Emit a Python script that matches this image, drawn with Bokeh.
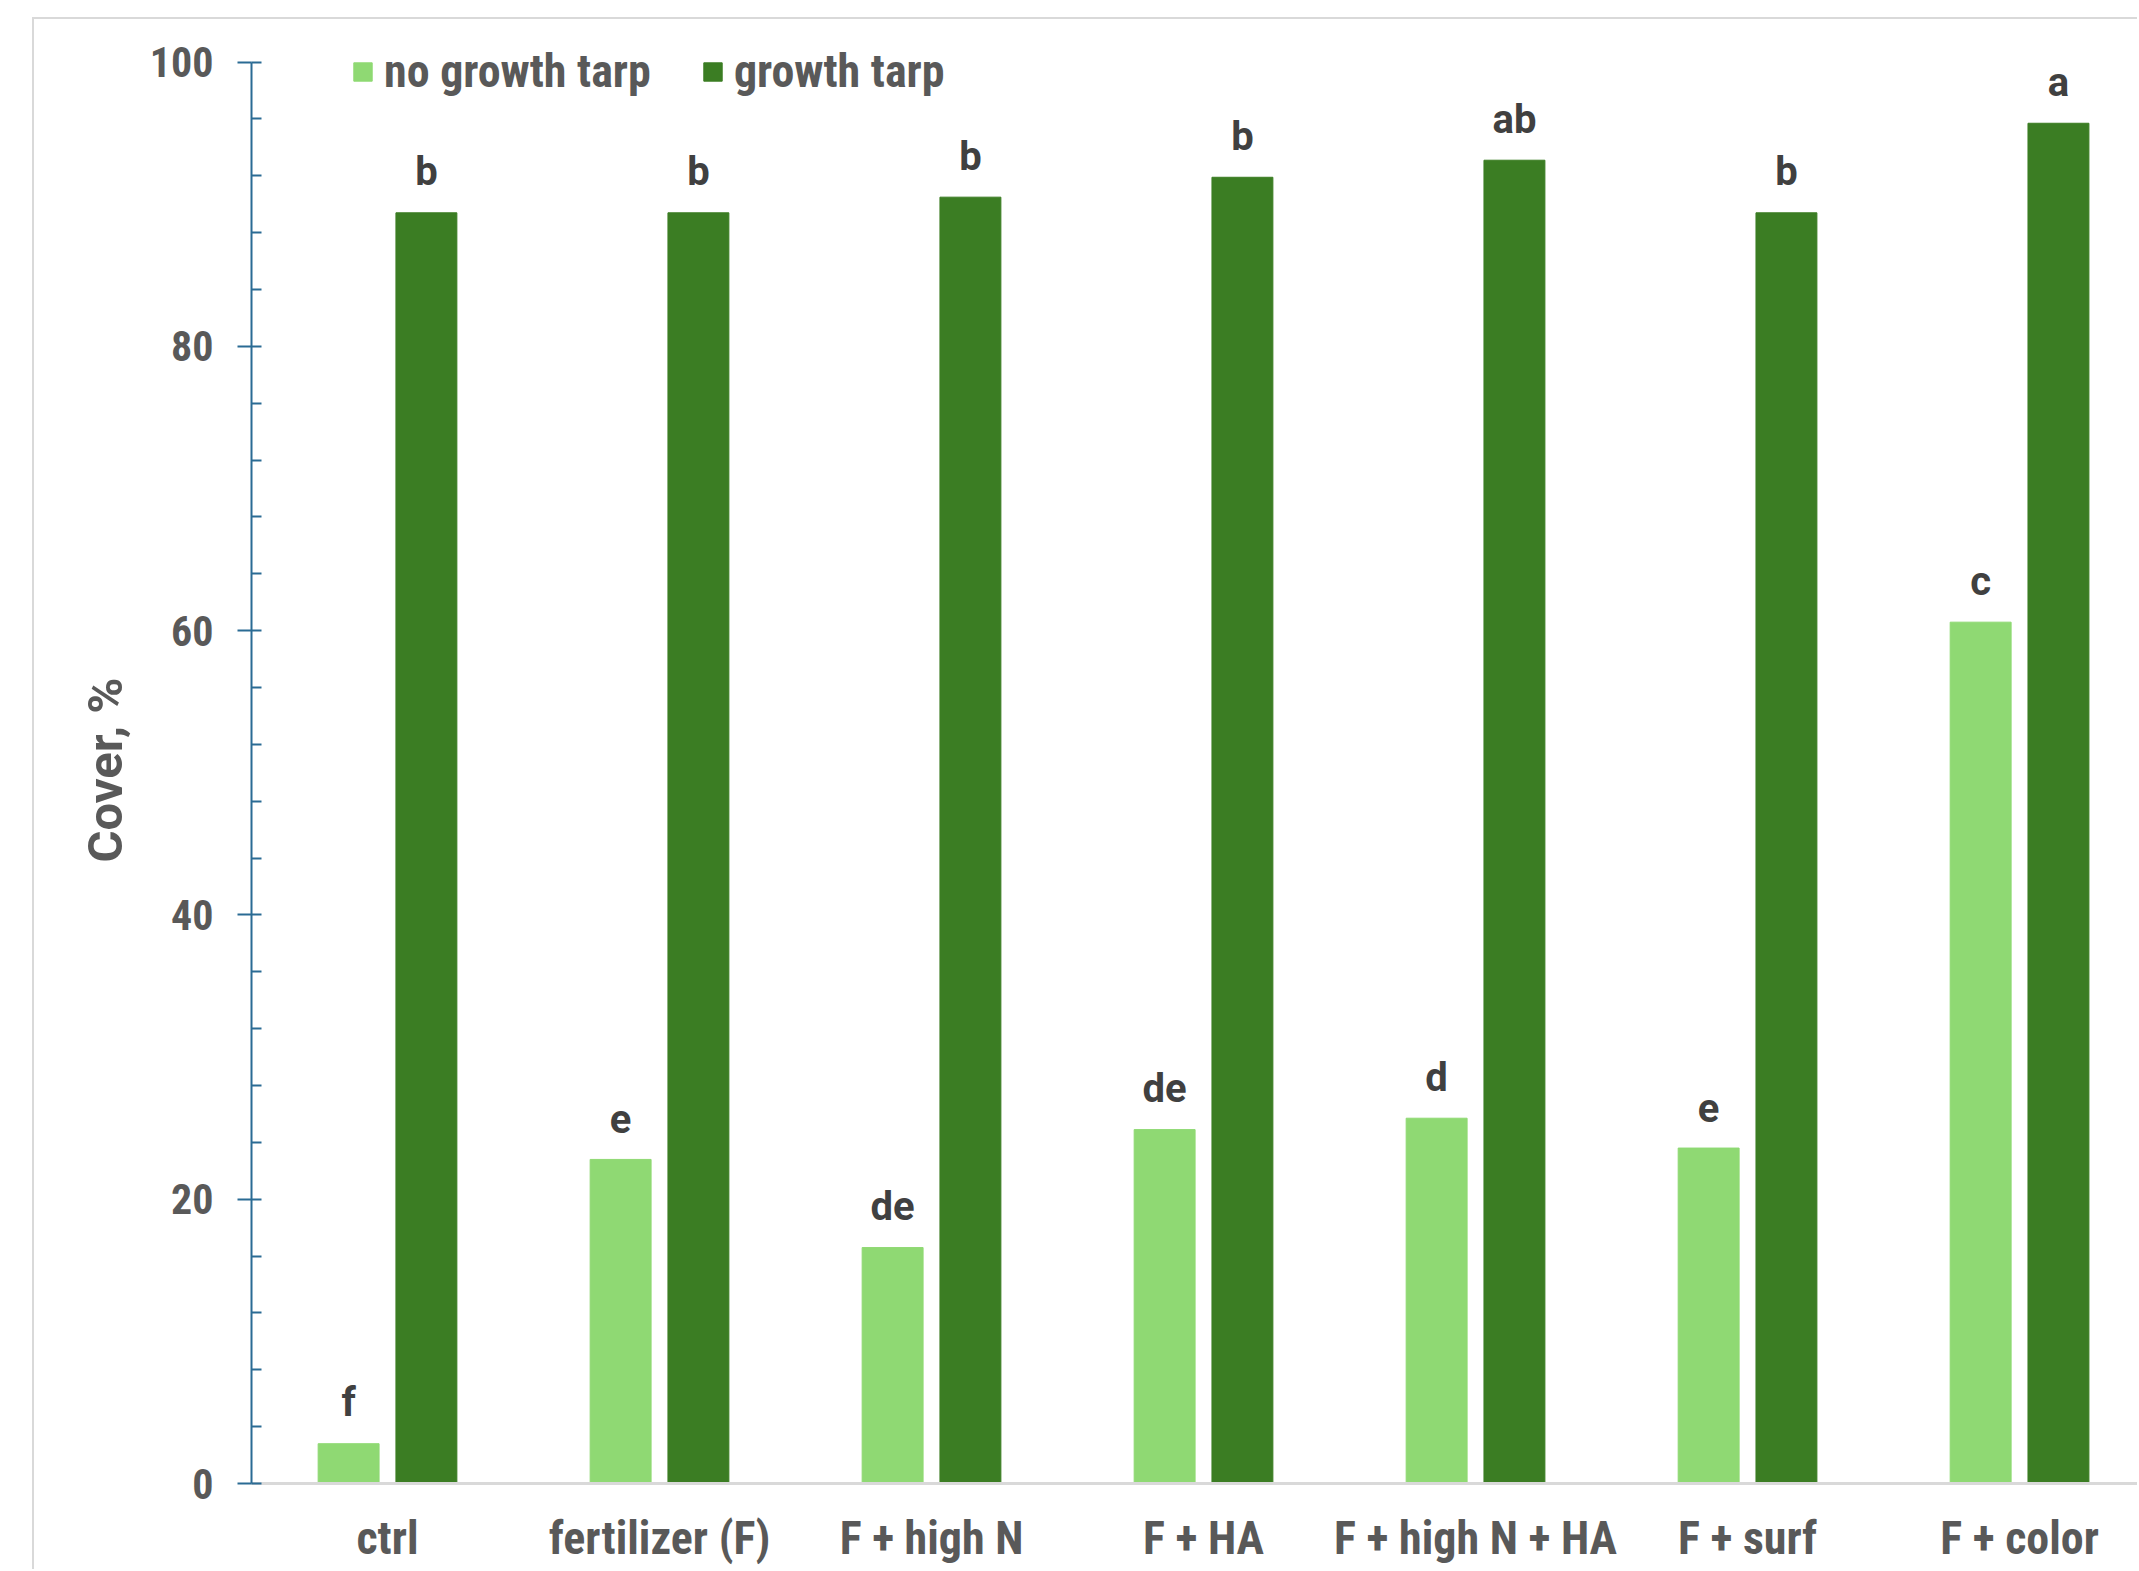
import numpy as np
from bokeh.plotting import figure
from bokeh.models import (Range1d, SingleIntervalTicker, FixedTicker, Legend, LegendItem,
                          ColumnDataSource, Title)
from bokeh.transform import dodge
from bokeh.core.properties import value
from bokeh.embed import file_html
from bokeh.resources import INLINE

categories = ["ctrl", "fertilizer (F)", "F + high N", "F + HA", "F + high N + HA", "F + surf", "F + color"]
no_tarp = [2.8, 22.8, 16.6, 24.9, 25.7, 23.6, 60.6]
tarp = [89.4, 89.4, 90.5, 91.9, 93.1, 89.4, 95.7]
no_tarp_letters = ["f", "e", "de", "de", "d", "e", "c"]
tarp_letters = ["b", "b", "b", "b", "ab", "b", "a"]
y_title = "Cover, %"

LIGHT = "#8FD973"
DARK = "#3B7D23"
NARROW = "Liberation Sans Narrow, Roboto Condensed, Roboto"

pos = np.arange(len(categories)) + 0.5
src = ColumnDataSource(dict(x=pos, no_tarp=no_tarp, tarp=tarp,
                            lnt=no_tarp_letters, lt=tarp_letters))

W, H = 2139, 1571
ML, MT, B = 32, 17, 2
p = figure(width=W - ML - B, height=H - MT - B, output_backend="svg", toolbar_location=None,
           x_range=Range1d(0, 6.941), y_range=Range1d(0, 103.0),
           min_border_left=251 - ML - B, min_border_right=0,
           min_border_top=0, min_border_bottom=88)
p.margin = (MT, 0, 0, ML)
p.styles = {"border-top": f"{B}px solid #D9D9D9", "border-left": f"{B}px solid #D9D9D9"}
p.outline_line_color = None
p.grid.grid_line_color = None
p.background_fill_color = "white"
p.border_fill_color = "white"

off = 0.143
bw = 0.224
r1 = p.vbar(x=dodge("x", -off), top="no_tarp", width=bw, source=src,
            fill_color=LIGHT, line_color=LIGHT)
r2 = p.vbar(x=dodge("x", off), top="tarp", width=bw, source=src,
            fill_color=DARK, line_color=DARK)

p.text(x=dodge("x", -off), y="no_tarp", text="lnt", source=src, y_offset=-41,
       text_align="center", text_baseline="middle", text_font=value("Roboto"),
       text_font_style="bold", text_font_size="40px", text_color="#404040")
p.text(x=dodge("x", off), y="tarp", text="lt", source=src, y_offset=-41,
       text_align="center", text_baseline="middle", text_font=value("Roboto"),
       text_font_style="bold", text_font_size="40px", text_color="#404040")

# y axis
ya = p.yaxis[0]
ya.bounds = (0, 100)
ya.ticker = SingleIntervalTicker(interval=20, num_minor_ticks=5)
ya.axis_line_color = "#2A6B94"
ya.axis_line_width = 2
ya.major_tick_line_color = "#2A6B94"
ya.major_tick_line_width = 2
ya.major_tick_out = 14
ya.major_tick_in = 0
ya.minor_tick_line_color = "#2A6B94"
ya.minor_tick_line_width = 2
ya.minor_tick_in = 10
ya.minor_tick_out = 0
ya.major_label_text_font = NARROW
ya.major_label_text_font_style = "bold"
ya.major_label_text_font_size = "42px"
ya.major_label_text_color = "#595959"
ya.major_label_standoff = 24

# y axis title as a side title, shifted to sit centred on the 0-100 span
p.add_layout(Title(text=y_title, align="left", offset=621, vertical_align="middle",
                   text_font="Roboto", text_font_style="bold",
                   text_font_size="49px", text_color="#595959", standoff=24), "left")

# x axis
xa = p.xaxis[0]
xa.ticker = FixedTicker(ticks=list(pos))
xa.major_label_overrides = {float(v): c for v, c in zip(pos, categories)}
xa.axis_line_color = "#D9D9D9"
xa.axis_line_width = 3
xa.major_tick_line_color = None
xa.minor_tick_line_color = None
xa.major_label_text_font = NARROW
xa.major_label_text_font_style = "bold"
xa.major_label_text_font_size = "46px"
xa.major_label_text_color = "#595959"
xa.major_label_standoff = 21

legend = Legend(items=[LegendItem(label="no growth tarp", renderers=[r1]),
                       LegendItem(label="growth tarp", renderers=[r2])],
                orientation="horizontal", location=(100, 1385),
                label_text_font=NARROW, label_text_font_style="bold",
                label_text_font_size="46px", label_text_color="#595959",
                glyph_width=23, glyph_height=23, label_standoff=10, spacing=50,
                padding=0, margin=0, border_line_color=None, background_fill_alpha=0)
p.add_layout(legend, "center")

open("out.html", "w").write(file_html(p, INLINE))
